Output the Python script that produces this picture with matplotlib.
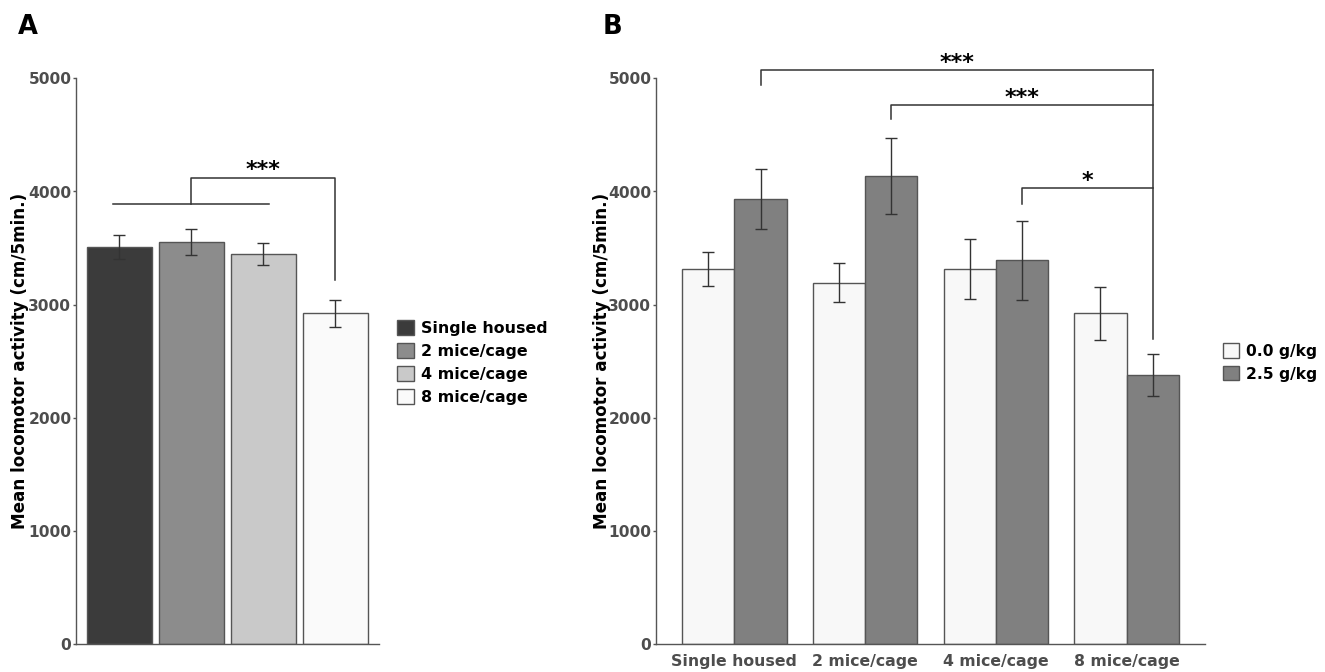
import numpy as np
import matplotlib.pyplot as plt
from matplotlib.patches import Patch

plt.rcParams['font.family'] = 'DejaVu Sans'
plt.rcParams['font.weight'] = 'bold'

# panel A: housing condition
housing = ['Single housed', '2 mice/cage', '4 mice/cage', '8 mice/cage']
mean_a = [3510, 3555, 3445, 2925]
sem_a = [105, 112, 98, 120]

# panel B: housing x ethanol dose
doses = ['0.0 g/kg', '2.5 g/kg']
mean_b0 = [3315, 3195, 3315, 2925]
sem_b0 = [148, 170, 268, 233]
mean_b25 = [3930, 4135, 3393, 2380]
sem_b25 = [265, 335, 348, 188]

colors_a = ['#3b3b3b', '#8c8c8c', '#c9c9c9', '#fafafa']
colors_b = ['#f8f8f8', '#808080']
edge = '#555555'
tick_col = '#4d4d4d'
line_col = '#333333'

W, H = 1325, 672
fig = plt.figure(figsize=(W / 100, H / 100), dpi=100)
axA = fig.add_axes([76 / W, 27.7 / H, 302.6 / W, 566 / H])
axB = fig.add_axes([656 / W, 27.7 / H, 549 / W, 566 / H])


def style(ax):
    for s in ['top', 'right']:
        ax.spines[s].set_visible(False)
    for s in ['left', 'bottom']:
        ax.spines[s].set_color(edge)
        ax.spines[s].set_linewidth(1.0)
    ax.set_xlim(0.4, 4.6)
    ax.set_ylim(0, 5000)
    ax.set_yticks(range(0, 5001, 1000))
    ax.tick_params(axis='y', length=2.5, width=1, color=edge, pad=0.8,
                   labelsize=11.2, labelcolor=tick_col)
    ax.set_ylabel('Mean locomotor activity (cm/5min.)', fontsize=12.1,
                  fontweight='bold')


def bracket(ax, xs, ys):
    ax.plot(xs, ys, color=line_col, lw=1.1, clip_on=False)


def stars(ax, x, y, s):
    ax.text(x, y, s, ha='center', va='baseline', fontsize=16,
            fontweight='bold', clip_on=False)


# ---- panel A
x = np.arange(1, 5)
style(axA)
axA.bar(x, mean_a, width=0.9, color=colors_a, edgecolor=edge, linewidth=1)
axA.errorbar(x, mean_a, yerr=sem_a, fmt='none', ecolor=line_col,
             elinewidth=1, capsize=4.5, capthick=1)
axA.set_xticks([])
axA.yaxis.set_label_coords(-0.155, 0.5)

bracket(axA, [0.92, 3.08], [3886, 3886])
bracket(axA, [2, 2, 4, 4], [3886, 4117, 4117, 3214])
stars(axA, 3, 4135, '***')

fig.legend([Patch(facecolor=c, edgecolor=edge) for c in colors_a], housing,
           loc='center left', bbox_to_anchor=(397 / W, 1 - 362.5 / H),
           frameon=False, borderpad=0, borderaxespad=0,
           handlelength=1.05, handleheight=1.05, handletextpad=0.45,
           labelspacing=0.45, prop={'weight': 'bold', 'size': 11.4})

# ---- panel B
style(axB)
axB.bar(x - 0.2, mean_b0, width=0.4, color=colors_b[0], edgecolor=edge, linewidth=1)
axB.bar(x + 0.2, mean_b25, width=0.4, color=colors_b[1], edgecolor=edge, linewidth=1)
axB.errorbar(x - 0.2, mean_b0, yerr=sem_b0, fmt='none', ecolor=line_col,
             elinewidth=1, capsize=4.5, capthick=1)
axB.errorbar(x + 0.2, mean_b25, yerr=sem_b25, fmt='none', ecolor=line_col,
             elinewidth=1, capsize=4.5, capthick=1)
axB.set_xticks(x)
axB.set_xticklabels(housing)
axB.tick_params(axis='x', length=0, pad=7, labelsize=11.3, labelcolor=tick_col)
axB.yaxis.set_label_coords(-0.082, 0.5)

bracket(axB, [4.2, 4.2], [5074, 2697])
bracket(axB, [1.2, 1.2, 4.2], [4939, 5074, 5074])
bracket(axB, [2.2, 2.2, 4.2], [4640, 4764, 4764])
bracket(axB, [3.2, 3.2, 4.2], [3893, 4028, 4028])
stars(axB, 2.7, 5085, '***')
stars(axB, 3.2, 4770, '***')
stars(axB, 3.7, 4040, '*')

fig.legend([Patch(facecolor=c, edgecolor=edge) for c in colors_b], doses,
           loc='center left', bbox_to_anchor=(1223 / W, 1 - 362.5 / H),
           frameon=False, borderpad=0, borderaxespad=0,
           handlelength=1.05, handleheight=1.05, handletextpad=0.45,
           labelspacing=0.45, prop={'weight': 'bold', 'size': 11.2})

fig.text(18 / W, 1 - 14 / H, 'A', fontsize=18.5, fontweight='bold', va='top', ha='left')
fig.text(603 / W, 1 - 14 / H, 'B', fontsize=18.5, fontweight='bold', va='top', ha='left')

fig.savefig('out.png', dpi=100)
